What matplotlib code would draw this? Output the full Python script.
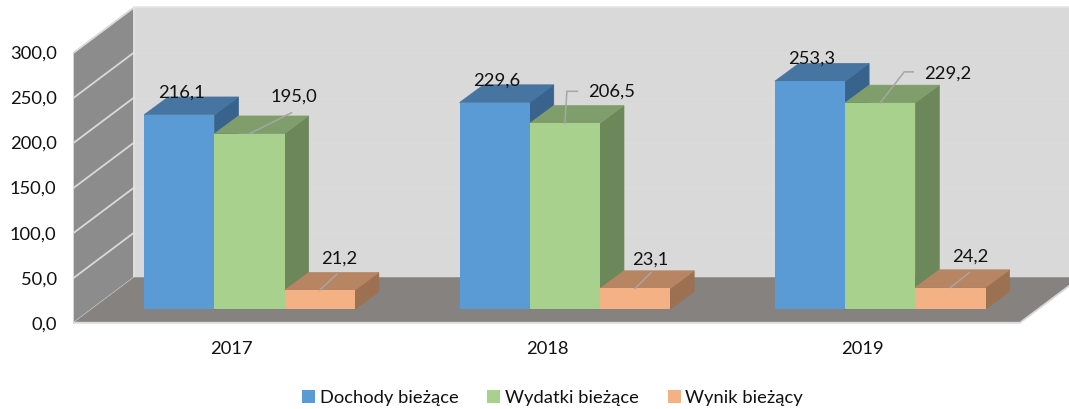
import numpy as np
import matplotlib.pyplot as plt
from matplotlib.patches import Polygon

plt.rcParams['font.family'] = ['Lato', 'DejaVu Sans']

# Data
years = ['2017', '2018', '2019']
series_names = ['Dochody bieżące', 'Wydatki bieżące', 'Wynik bieżący']
dochody = [216.1, 229.6, 253.3]
wydatki = [195.0, 206.5, 229.2]
wynik = [21.2, 23.1, 24.2]
y_ticks = [0, 50, 100, 150, 200, 250, 300]

# Colours: front, top, side
front_colors = ['#5B9BD5', '#A9D18E', '#F4B183']
top_colors = ['#4675A1', '#7F9E6B', '#B78562']
side_colors = ['#38638C', '#6C8759', '#9C7152']

W, H = 1069, 409
fig = plt.figure(figsize=(W / 100, H / 100), dpi=100)

# Axes box is the front plane of the 3D chart
left, right, top, bottom = 74, 1020, 52.5, 322.7
ax = fig.add_axes([left / W, 1 - bottom / H, (right - left) / W, (bottom - top) / H])
ax.set_xlim(-0.5, 2.5)
ax.set_ylim(0, 300)

# one pixel in data units
px_x = 3 / (right - left)
px_y = 300 / (bottom - top)

# Oblique depth of the walls
wall_dx = 60 * px_x
wall_dy = 45 * px_y


def depth(x, y, d):
    return (x + d * wall_dx, y + d * wall_dy)


def face(points, color, z):
    ax.add_patch(Polygon(points, closed=True, facecolor=color, edgecolor=color,
                         linewidth=0.5, clip_on=False, zorder=z))


# Back wall, side wall, floor
face([depth(-0.5, 0, 1), depth(2.5, 0, 1), depth(2.5, 300, 1), depth(-0.5, 300, 1)], '#D9D9D9', 1)
face([depth(-0.5, 0, 0), depth(-0.5, 0, 1), depth(-0.5, 300, 1), depth(-0.5, 300, 0)], '#8C8C8C', 1)
face([depth(-0.5, 0, 0), depth(2.5, 0, 0), depth(2.5, 0, 1), depth(-0.5, 0, 1)], '#868280', 1.5)

# Grid lines on the walls
for t in y_ticks:
    xs, ys = zip(depth(-0.5, t, 0), depth(-0.5, t, 1), depth(2.5, t, 1))
    ax.plot(xs[:2], ys[:2], color='#D9D9D9', lw=1.3, clip_on=False, zorder=1.2)
    if t > 0:
        ax.plot(xs[1:], ys[1:], color='#DBDBDB', lw=0.8, clip_on=False, zorder=1.2)
ax.plot(*zip(depth(-0.5, 0, 1), depth(-0.5, 300, 1), depth(2.5, 300, 1)), color='#E4E4E4', lw=1.3,
        clip_on=False, zorder=1.3)
ax.plot(*zip(depth(-0.5, 0, 0), depth(2.5, 0, 0), depth(2.5, 0, 1)), color='#D9D9D9', lw=1.3,
        clip_on=False, zorder=1.6)

# Bars
bar_w = 70.2 * px_x
d0 = 13.4 / 45
bar_dx = 24 * px_x
bar_dy = 17.7 * px_y
series = [dochody, wydatki, wynik]
handles = []
for j, values in enumerate(series):
    z = 3 + j
    xs = np.arange(len(years)) + (j - 1) * bar_w + d0 * wall_dx
    base = d0 * wall_dy
    for x, v in zip(xs, values):
        x0, x1 = x - bar_w / 2, x + bar_w / 2
        y1 = base + v
        face([(x1, base), (x1 + bar_dx, base + bar_dy), (x1 + bar_dx, y1 + bar_dy), (x1, y1)], side_colors[j], z)
        face([(x0, y1), (x1, y1), (x1 + bar_dx, y1 + bar_dy), (x0 + bar_dx, y1 + bar_dy)], top_colors[j], z)
    b = ax.bar(xs, values, bar_w, bottom=base, color=front_colors[j], label=series_names[j],
               clip_on=False, zorder=z + 0.1)
    handles.append(b)

# Value labels, offsets in pixels from the middle of the bar's front top edge
label_offsets = [
    [(2.5, 21.8), (2, 21.7), (1.7, 22.3)],
    [(44.5, 36.8), (47, 31.4), (67.7, 29)],
    [(19, 31.2), (15.6, 28.5), (20.2, 30.5)],
]
leaders = {
    (1, 0): [(0, 0), (42, 21)],
    (1, 1): [(0, 0), (2, 32), (12.5, 32)],
    (1, 2): [(0, 0), (24, 31), (33, 31)],
    (2, 0): [(0, 0), (17, 16)],
    (2, 1): [(0, 0), (16, 16)],
    (2, 2): [(0, 0), (19, 15)],
}
for j, values in enumerate(series):
    for i, v in enumerate(values):
        cx = i + (j - 1) * bar_w + d0 * wall_dx
        cy = d0 * wall_dy + v
        if (j, i) in leaders:
            pts = leaders[(j, i)]
            ax.plot([cx + p[0] * px_x for p in pts], [cy + p[1] * px_y for p in pts],
                    color='#A6A6A6', lw=1.1, clip_on=False, zorder=8)
        ox, oy = label_offsets[j][i]
        ax.text(cx + ox * px_x, cy + oy * px_y, f'{v:.1f}'.replace('.', ','), ha='center', va='center',
                fontsize=13.2, color='#111111', zorder=9)

# Axes text
ax.set_xticks(range(len(years)), years)
ax.set_yticks(y_ticks, [f'{t:.1f}'.replace('.', ',') for t in y_ticks])
ax.tick_params(axis='both', length=0, labelsize=13.2, labelcolor='#111111')
ax.tick_params(axis='x', pad=13)
ax.tick_params(axis='y', pad=12.5)
for s in ax.spines.values():
    s.set_visible(False)

fig.legend(handles=handles, loc='center', bbox_to_anchor=(552.5 / W, 1 - 398 / H), ncol=3, frameon=False,
           fontsize=13.2, handlelength=0.71, handleheight=0.71, handletextpad=0.25, columnspacing=1.58,
           labelcolor='#111111')

plt.savefig('out.png', dpi=100)
